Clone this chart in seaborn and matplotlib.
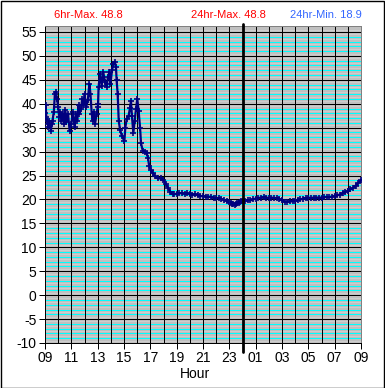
import numpy as np
import pandas as pd
import matplotlib
matplotlib.use("Agg")
import matplotlib.pyplot as plt
import seaborn as sns
from matplotlib.patches import Rectangle

# ---- data (hours since 09:00, temperature) ----
hours = [0.00, 0.05, 0.10, 0.17, 0.22, 0.25, 0.30, 0.37, 0.45, 0.50, 0.57, 0.67, 0.75, 0.82, 0.92,
         1.00, 1.08, 1.17, 1.25, 1.37, 1.43, 1.55, 1.62, 1.75, 1.87, 2.00, 2.12, 2.25, 2.37, 2.45,
         2.55, 2.62, 2.75, 2.82, 2.92, 3.00, 3.12, 3.25, 3.37, 3.45, 3.55, 3.62, 3.70, 3.80, 3.92,
         4.00, 4.03, 4.07, 4.18, 4.30, 4.43, 4.55, 4.68, 4.78, 4.89, 4.97, 5.09, 5.20, 5.30, 5.39,
         5.44, 5.52, 5.60, 5.70, 5.85, 6.03, 6.10, 6.20, 6.35, 6.46, 6.53, 6.60, 6.71, 6.81, 6.91,
         7.01, 7.11, 7.22, 7.29, 7.42, 7.59, 7.72, 7.82, 7.92, 8.05, 8.18, 8.35, 8.56, 8.81, 8.99,
         9.19, 9.37, 9.52, 9.70, 9.80, 10.0, 10.2, 10.4, 10.6, 10.8, 11.0, 11.2, 11.4, 11.6, 11.8,
         12.0, 12.2, 12.4, 12.6, 12.8, 13.0, 13.2, 13.4, 13.6, 13.8, 14.0, 14.1, 14.2, 14.3, 14.4,
         14.5, 14.6, 14.7, 14.8, 14.9, 15.0, 15.2, 15.4, 15.6, 15.8, 16.0, 16.2, 16.4, 16.6, 16.8,
         17.0, 17.2, 17.4, 17.6, 17.8, 18.0, 18.2, 18.4, 18.6, 18.8, 19.0, 19.2, 19.4, 19.6, 19.8,
         20.0, 20.2, 20.4, 20.6, 20.8, 21.0, 21.2, 21.4, 21.6, 21.8, 22.0, 22.2, 22.4, 22.6, 22.8,
         23.0, 23.2, 23.4, 23.6, 23.8, 24.0]
temps = [38.0, 39.8, 37.2, 36.5, 35.8, 35.1, 36.5, 35.5, 34.4, 35.8, 36.5, 38.3, 42.1, 42.4, 41.0,
         39.3, 37.2, 38.3, 36.5, 37.9, 35.8, 38.6, 36.2, 37.9, 34.4, 35.8, 38.3, 35.1, 37.9, 36.5,
         39.7, 37.9, 39.0, 41.0, 39.7, 42.1, 39.3, 40.7, 44.2, 42.1, 37.9, 36.5, 38.3, 35.8, 37.9,
         39.3, 40.0, 43.5, 46.3, 43.8, 46.6, 44.5, 43.5, 45.6, 46.6, 44.2, 47.0, 48.4, 48.8, 47.7,
         44.9, 42.0, 36.4, 34.6, 33.2, 32.2, 35.0, 36.8, 37.5, 39.2, 40.6, 37.5, 33.9, 36.4, 38.9,
         41.0, 38.5, 35.0, 31.8, 30.2, 29.9, 29.7, 28.7, 26.9, 26.2, 25.5, 24.8, 24.4, 24.4, 24.1,
         23.2, 22.3, 21.6, 21.1, 21.1, 21.2, 21.3, 21.3, 21.2, 21.3, 21.1, 21.0, 21.1, 20.9, 20.7,
         20.7, 20.6, 20.6, 20.5, 20.4, 20.3, 20.3, 20.1, 19.9, 19.7, 19.5, 19.3, 19.1, 19.0, 18.9,
         19.0, 19.2, 19.3, 19.5, 19.6, 19.7, 19.7, 19.8, 19.8, 20.0, 20.2, 20.3, 20.4, 20.5, 20.4,
         20.3, 20.4, 20.3, 20.3, 20.1, 19.8, 19.5, 19.5, 19.6, 19.6, 19.7, 19.9, 20.0, 20.2, 20.3,
         20.4, 20.3, 20.4, 20.4, 20.4, 20.4, 20.5, 20.5, 20.5, 20.6, 20.7, 20.9, 21.0, 21.3, 21.6,
         21.8, 22.1, 22.4, 22.9, 23.5, 24.0]
xtick_pos = [0, 2, 4, 6, 8, 10, 12, 14, 16, 18, 20, 22, 24]
xtick_labels = ["09", "11", "13", "15", "17", "19", "21", "23", "01", "03", "05", "07", "09"]
ytick_pos = [-10, -5, 0, 5, 10, 15, 20, 25, 30, 35, 40, 45, 50, 55]
title_6hr_max = "6hr-Max. 48.8"
title_24hr_max = "24hr-Max. 48.8"
title_24hr_min = "24hr-Min. 18.9"
midnight_hour = 15

df = pd.DataFrame({"hour": hours, "temp": temps})

sns.set_theme(style="white")
plt.rcParams["font.family"] = ["Liberation Sans", "DejaVu Sans"]

W, H = 385, 388
fig = plt.figure(figsize=(W / 100, H / 100), dpi=100)
fig.patch.set_facecolor("white")
L, R, T, B = 45, 361, 26, 343
ax = fig.add_axes([L / W, 1 - B / H, (R - L) / W, (B - T) / H])
ax.set_facecolor("#c0c0c0")

ymin, ymax = -10, 55 + 6 / 4.785
ax.set_xlim(0, 24)
ax.set_ylim(ymin, ymax)

px = 0.72  # one pixel in points
# minor horizontal lines
for v in np.arange(-9.5, 56, 0.5):
    if abs(v - round(v)) < 1e-6:
        if int(round(v)) % 5 == 0:
            continue
        ax.axhline(v, color="#00ffff", lw=px, zorder=1, antialiased=False)
    else:
        ax.axhline(v, color="#cdcdcd", lw=px, zorder=1, antialiased=False)
for v in ytick_pos:
    ax.axhline(v, color="black", lw=px, zorder=2, antialiased=False)
for h in range(1, 24):
    ax.axvline(h, color="black", lw=px, zorder=2, antialiased=False)

sns.lineplot(data=df, x="hour", y="temp", ax=ax, sort=False, estimator=None,
             color="#000080", lw=1.6, marker="+", markersize=4.5, mew=1.2,
             mec="#000080", zorder=4)

# midnight divider extends beyond plot area
ax.axvline(midnight_hour, ymin=-(352 - B) / (B - T), ymax=1 + (T - 24) / (B - T),
           color="black", lw=2.0, clip_on=False, zorder=5)

ax.set_xticks(xtick_pos)
ax.set_xticklabels(xtick_labels)
ax.set_yticks(ytick_pos)
ax.set_yticklabels([str(v) for v in ytick_pos])
ax.tick_params(axis="both", which="major", direction="out", length=4, width=px,
               color="black", labelsize=10, labelcolor="black", pad=2,
               bottom=True, left=True)
ax.set_xlabel("")
ax.set_ylabel("")

for s in ["left", "bottom"]:
    ax.spines[s].set_color("black")
    ax.spines[s].set_linewidth(px)
for s in ["top", "right"]:
    ax.spines[s].set_color("#808080")
    ax.spines[s].set_linewidth(px)

fig.text(54 / W, 1 - 15 / H, title_6hr_max, color="#ff0000", fontsize=8,
         ha="left", va="center")
fig.text(228 / W, 1 - 15 / H, title_24hr_max, color="#ff0000", fontsize=8,
         ha="center", va="center")
fig.text(362 / W, 1 - 15 / H, title_24hr_min, color="#3366ff", fontsize=8,
         ha="right", va="center")
fig.text(195 / W, 1 - 374 / H, "Hour", color="black", fontsize=10,
         ha="center", va="center")

fig.patches.append(Rectangle((0.5 / W, 0.5 / H), 1 - 1.5 / W, 1 - 1.5 / H,
                             transform=fig.transFigure, fill=False,
                             edgecolor="black", lw=1.0))

fig.savefig("out.png", dpi=100, facecolor="white")
